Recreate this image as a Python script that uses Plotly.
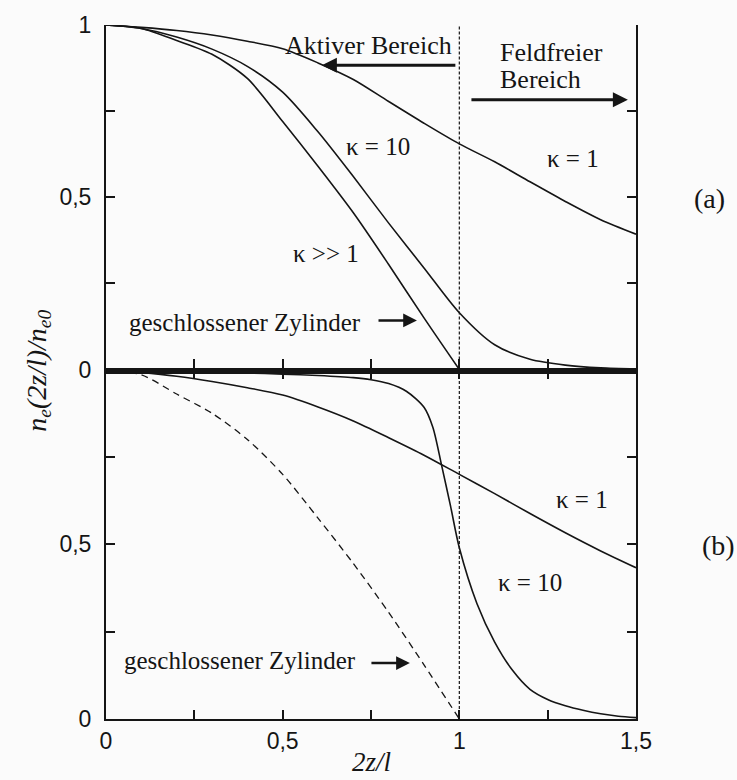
import plotly.graph_objects as go

# ---------------- data ----------------
# Panel (a)
x_a = [0.0, 0.1, 0.2, 0.3, 0.4, 0.5, 0.6, 0.7, 0.8, 0.9, 1.0, 1.1, 1.2, 1.3, 1.4, 1.5]
a_kappa1 = [1.0, 0.993, 0.984, 0.971, 0.953, 0.931, 0.89, 0.842, 0.778, 0.715,
            0.655, 0.603, 0.545, 0.488, 0.435, 0.393]
a_kappa10 = [1.0, 0.99, 0.965, 0.93, 0.88, 0.805, 0.69, 0.56, 0.425, 0.295,
             0.165, 0.072, 0.03, 0.013, 0.005, 0.002]
x_a_closed = [0.0, 0.1, 0.2, 0.3, 0.4, 0.5, 0.6, 0.7, 0.8, 0.9, 1.0]
a_closed = [1.0, 0.99, 0.955, 0.915, 0.845, 0.72, 0.59, 0.455, 0.305, 0.15, 0.0]

# Panel (b)
x_b = [0.0, 0.1, 0.2, 0.3, 0.4, 0.5, 0.6, 0.7, 0.8, 0.9, 1.0, 1.1, 1.2, 1.3, 1.4, 1.5]
b_kappa1 = [1.0, 0.992, 0.981, 0.966, 0.948, 0.927, 0.893, 0.853, 0.805, 0.755,
            0.70, 0.645, 0.588, 0.533, 0.481, 0.433]
x_b_kappa10 = [0.0, 0.1, 0.2, 0.3, 0.4, 0.5, 0.6, 0.7, 0.75, 0.8, 0.85, 0.9, 0.925,
               0.95, 0.975, 1.0, 1.05, 1.1, 1.15, 1.2, 1.25, 1.3, 1.35, 1.4, 1.45, 1.5]
b_kappa10 = [1.0, 0.998, 0.995, 0.992, 0.99, 0.987, 0.983, 0.977, 0.971, 0.96, 0.938,
             0.892, 0.835, 0.725, 0.61, 0.49, 0.33, 0.22, 0.14, 0.085, 0.056, 0.038,
             0.025, 0.015, 0.008, 0.004]
x_b_closed = [0.0, 0.1, 0.2, 0.3, 0.4, 0.5, 0.6, 0.7, 0.8, 0.9, 1.0]
b_closed = [1.0, 0.985, 0.93, 0.875, 0.80, 0.70, 0.575, 0.445, 0.305, 0.155, 0.0]

# boundary between active and field-free region
boundary_x = [1.0, 1.0]
boundary_y = [0.0, 1.0]

# tick labels
x_tickvals = [0, 0.25, 0.5, 0.75, 1.0, 1.25, 1.5]
x_ticktext = ["0", "", "0,5", "", "1", "", "1,5"]
ya_tickvals = [0, 0.25, 0.5, 0.75, 1.0]
ya_ticktext = ["0", "", "0,5", "", "1"]
yb_tickvals = [0, 0.25, 0.5, 0.75]
yb_ticktext = ["0", "", "0,5", ""]

# ---------------- styling ----------------
INK = "#151515"
SERIF = "Liberation Serif"
SANS = "Liberation Sans"
BG = "#fbfbfb"
LW = 1.6

fig = go.Figure()

def curve(x, y, xa, ya, dash="solid", width=LW, shape="spline"):
    fig.add_trace(go.Scatter(x=x, y=y, xaxis=xa, yaxis=ya, mode="lines",
                             line=dict(color=INK, width=width, dash=dash,
                                       shape=shape, smoothing=0.8),
                             showlegend=False, hoverinfo="skip"))

# panel (a): x2 / y
curve(x_a, a_kappa1, "x2", "y")
curve(x_a, a_kappa10, "x2", "y")
curve(x_a_closed, a_closed, "x2", "y")
curve(boundary_x, boundary_y, "x2", "y", dash="3px,2px", width=1.2, shape="linear")
# panel (b): x / y2
curve(x_b, b_kappa1, "x", "y2")
curve(x_b_kappa10, b_kappa10, "x", "y2")
curve(x_b_closed, b_closed, "x", "y2", dash="7px,5px", width=1.3)
curve(boundary_x, boundary_y, "x", "y2", dash="3px,2px", width=1.2, shape="linear")

split = 0.5035
tickfont = dict(family=SANS, size=23, color=INK)

common_x = dict(range=[0, 1.5], tickvals=x_tickvals, ticktext=x_ticktext,
                ticks="inside", tickwidth=1.5, tickcolor=INK, showline=True,
                linecolor=INK, showgrid=False, zeroline=False, fixedrange=True)
common_y = dict(range=[0, 1], ticks="inside", ticklen=9, tickwidth=1.5,
                tickcolor=INK, showline=True, linewidth=2, linecolor=INK,
                mirror="ticks", showgrid=False, zeroline=False, tickfont=tickfont,
                ticklabelstandoff=8, ticklabeloverflow="allow", fixedrange=True)

fig.update_layout(
    width=737, height=780, autosize=False,
    margin=dict(l=106, r=101, t=12, b=61),
    paper_bgcolor=BG, plot_bgcolor=BG,
    xaxis=dict(**common_x, domain=[0, 1], anchor="y2", ticklen=9, linewidth=2,
               mirror="ticks", tickfont=tickfont, ticklabeloverflow="allow"),
    xaxis2=dict(**common_x, domain=[0, 1], anchor="y", ticklen=11, linewidth=3.5,
                showticklabels=False),
    xaxis3=dict(**common_x, domain=[0, 1], anchor="y", overlaying="x2", side="top",
                ticklen=8, linewidth=2, showticklabels=False),
    yaxis=dict(**common_y, domain=[split, 1], anchor="x2",
               tickvals=ya_tickvals, ticktext=ya_ticktext),
    yaxis2=dict(**common_y, domain=[0, split], anchor="x",
                tickvals=yb_tickvals, ticktext=yb_ticktext),
)


def text(t, x, y, xref, yref, size=25, xanchor="center", **kw):
    fig.add_annotation(text=t, x=x, y=y, xref=xref, yref=yref, showarrow=False,
                       xanchor=xanchor, yanchor="middle",
                       font=dict(family=SERIF, size=size, color=INK), **kw)


def arrow(x_head, x_tail, y, xref, yref, width=3, size=1.0):
    fig.add_annotation(text="", x=x_head, y=y, ax=x_tail, ay=y, xref=xref, yref=yref,
                       axref=xref, ayref=yref, showarrow=True, arrowhead=2,
                       arrowsize=size, arrowwidth=width, arrowcolor=INK, standoff=0)


# panel (a) labels
text("Aktiver Bereich", 0.743, 0.940, "x2", "y", size=26)
arrow(0.611, 0.993, 0.883, "x2", "y")
text("Feldfreier", 1.109, 0.920, "x2", "y", size=26, xanchor="left")
text("Bereich", 1.109, 0.843, "x2", "y", size=26, xanchor="left")
arrow(1.477, 1.030, 0.783, "x2", "y")
text("κ = 10", 0.771, 0.647, "x2", "y")
text("κ = 1", 1.322, 0.6125, "x2", "y")
text("κ >> 1", 0.623, 0.336, "x2", "y")
text("geschlossener Zylinder", 0.392, 0.137, "x2", "y")
arrow(0.880, 0.767, 0.1425, "x2", "y", width=2.5, size=1.1)
text("(a)", 1.1396, 0.4957, "paper", "y", size=28)

# panel (b) labels
text("κ = 1", 1.347, 0.629, "x", "y2")
text("κ = 10", 1.20, 0.390, "x", "y2")
text("geschlossener Zylinder", 0.379, 0.166, "x", "y2")
arrow(0.860, 0.747, 0.160, "x", "y2", width=2.5, size=1.1)
text("(b)", 1.155, 0.497, "paper", "y2", size=28)

# axis titles
text("<i>2z/l</i>", 0.5, -0.0615, "paper", "paper", size=27)
text("<i>n</i><sub><i>e</i></sub><i>(2z/l)/n</i><sub><i>e0</i></sub>", -0.128, 0.502,
     "paper", "paper", size=28, textangle=-90)

fig.write_html("out.html")
